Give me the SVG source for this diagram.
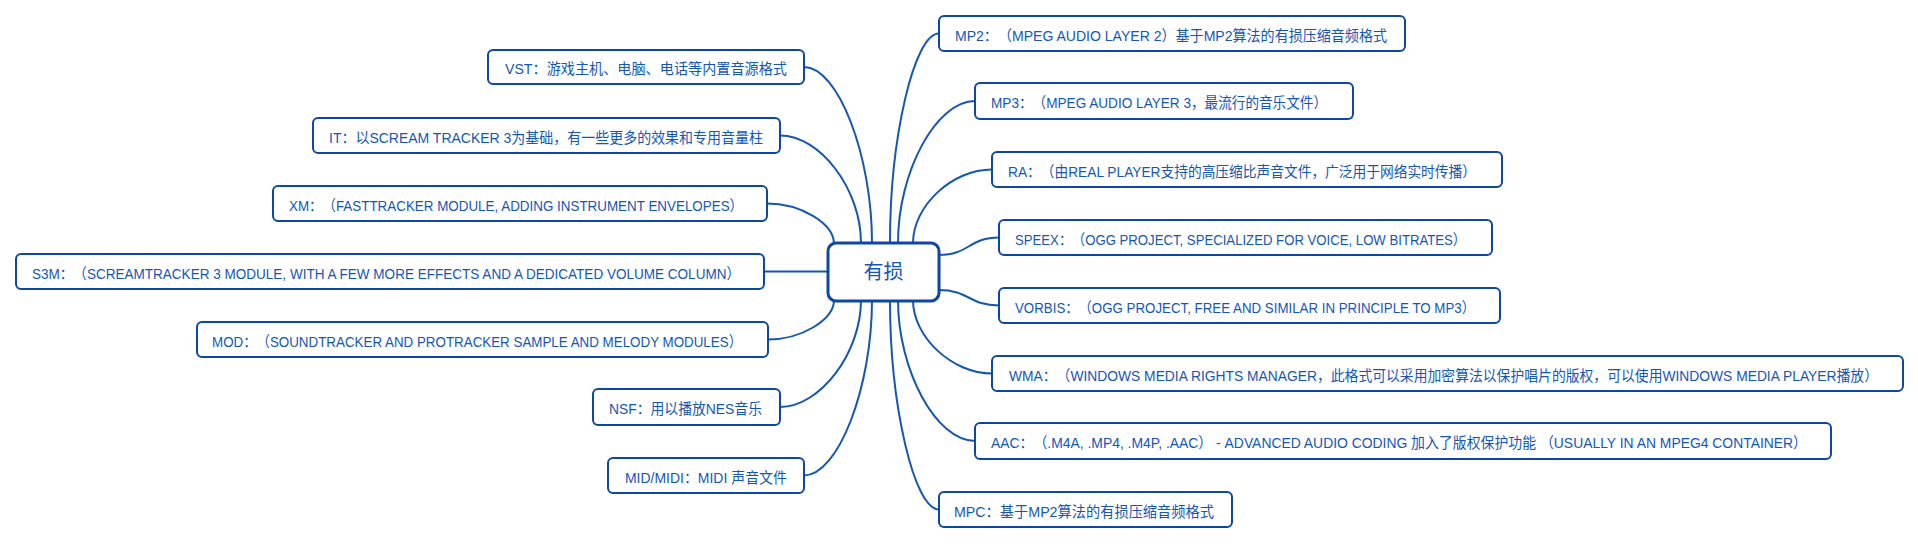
<svg xmlns="http://www.w3.org/2000/svg" width="1918" height="544" viewBox="0 0 1918 544">
<style>
.bg{fill:#ffffff}
.box{fill:#ffffff;stroke:#0d47a1;stroke-width:2}
.hub{fill:#ffffff;stroke:#0d47a1;stroke-width:3}
.t{font-family:"Liberation Sans","Noto Sans CJK SC",sans-serif;font-size:15px;fill:#1556b3;text-spacing-trim:space-all}
.ht{font-family:"Noto Sans CJK SC","Liberation Sans",sans-serif;font-size:20px;fill:#1556b3}
.c{fill:none;stroke:#1556b3;stroke-width:2}
</style>
<rect class="bg" x="0" y="0" width="1918" height="544"/>
<g id="connectors">
<path class="c" d="M 804 67 C 838 67, 872 155, 872 243"/>
<path class="c" d="M 780 135.5 C 820 135.5, 861 189, 861 243"/>
<path class="c" d="M 767 203.5 C 800 203.5, 834 223, 834 244"/>
<path class="c" d="M 764 271.5 L 828 271.5"/>
<path class="c" d="M 768 339.5 C 801 339.5, 834 320, 834 300"/>
<path class="c" d="M 780 407 C 820 407, 861 353, 861 300"/>
<path class="c" d="M 804 475.5 C 838 475.5, 872 388, 872 300"/>
<path class="c" d="M 939 33.5 C 914 33.5, 890 138, 890 243"/>
<path class="c" d="M 975 101 C 936 101, 898 172, 898 243"/>
<path class="c" d="M 992 169.5 C 952 169.5, 913 206, 913 243"/>
<path class="c" d="M 999 237.5 C 969 237.5, 969 255, 939 255"/>
<path class="c" d="M 999 305.5 C 969 305.5, 969 290, 939 290"/>
<path class="c" d="M 992 373.5 C 952 373.5, 913 337, 913 300"/>
<path class="c" d="M 975 441 C 936 441, 898 370, 898 300"/>
<path class="c" d="M 939 509.5 C 914 509.5, 890 405, 890 300"/>
</g>
<g id="hub">
<rect class="hub" x="828" y="243" width="111" height="58" rx="8"/>
<text class="ht" x="883.5" y="279" text-anchor="middle">有损</text>
</g>
<g id="vst">
<rect class="box" x="488" y="50" width="316" height="34" rx="5"/>
<text class="t" x="505" y="74" textLength="282" lengthAdjust="spacingAndGlyphs">VST：游戏主机、电脑、电话等内置音源格式</text>
</g>
<g id="it">
<rect class="box" x="313" y="118" width="467" height="35" rx="5"/>
<text class="t" x="329" y="142.5" textLength="434" lengthAdjust="spacingAndGlyphs">IT：以SCREAM TRACKER 3为基础，有一些更多的效果和专用音量柱</text>
</g>
<g id="xm">
<rect class="box" x="273" y="186" width="494" height="35" rx="5"/>
<text class="t" x="289" y="210.5" textLength="454" lengthAdjust="spacingAndGlyphs">XM：（FASTTRACKER MODULE, ADDING INSTRUMENT ENVELOPES）</text>
</g>
<g id="s3m">
<rect class="box" x="16" y="254" width="748" height="35" rx="5"/>
<text class="t" x="32" y="278.5" textLength="708" lengthAdjust="spacingAndGlyphs">S3M：（SCREAMTRACKER 3 MODULE, WITH A FEW MORE EFFECTS AND A DEDICATED VOLUME COLUMN）</text>
</g>
<g id="mod">
<rect class="box" x="197" y="322" width="571" height="35" rx="5"/>
<text class="t" x="212" y="346.5" textLength="530" lengthAdjust="spacingAndGlyphs">MOD：（SOUNDTRACKER AND PROTRACKER SAMPLE AND MELODY MODULES）</text>
</g>
<g id="nsf">
<rect class="box" x="593" y="389" width="187" height="36" rx="5"/>
<text class="t" x="609" y="414" textLength="153" lengthAdjust="spacingAndGlyphs">NSF：用以播放NES音乐</text>
</g>
<g id="mid">
<rect class="box" x="608" y="458" width="196" height="35" rx="5"/>
<text class="t" x="625" y="482.5" textLength="162" lengthAdjust="spacingAndGlyphs">MID/MIDI：MIDI 声音文件</text>
</g>
<g id="mp2">
<rect class="box" x="939" y="16" width="466" height="35" rx="5"/>
<text class="t" x="955" y="40.5" textLength="432" lengthAdjust="spacingAndGlyphs">MP2：（MPEG AUDIO LAYER 2）基于MP2算法的有损压缩音频格式</text>
</g>
<g id="mp3">
<rect class="box" x="975" y="83" width="378" height="36" rx="5"/>
<text class="t" x="991" y="108" textLength="336" lengthAdjust="spacingAndGlyphs">MP3：（MPEG AUDIO LAYER 3，最流行的音乐文件）</text>
</g>
<g id="ra">
<rect class="box" x="992" y="152" width="510" height="35" rx="5"/>
<text class="t" x="1008" y="176.5" textLength="468" lengthAdjust="spacingAndGlyphs">RA：（由REAL PLAYER支持的高压缩比声音文件，广泛用于网络实时传播）</text>
</g>
<g id="speex">
<rect class="box" x="999" y="220" width="493" height="35" rx="5"/>
<text class="t" x="1015" y="244.5" textLength="451" lengthAdjust="spacingAndGlyphs">SPEEX：（OGG PROJECT, SPECIALIZED FOR VOICE, LOW BITRATES）</text>
</g>
<g id="vorbis">
<rect class="box" x="999" y="288" width="501" height="35" rx="5"/>
<text class="t" x="1015" y="312.5" textLength="460" lengthAdjust="spacingAndGlyphs">VORBIS：（OGG PROJECT, FREE AND SIMILAR IN PRINCIPLE TO MP3）</text>
</g>
<g id="wma">
<rect class="box" x="992" y="356" width="911" height="35" rx="5"/>
<text class="t" x="1009" y="380.5" textLength="869" lengthAdjust="spacingAndGlyphs">WMA：（WINDOWS MEDIA RIGHTS MANAGER，此格式可以采用加密算法以保护唱片的版权，可以使用WINDOWS MEDIA PLAYER播放）</text>
</g>
<g id="aac">
<rect class="box" x="975" y="423" width="856" height="36" rx="5"/>
<text class="t" x="991" y="448" textLength="816" lengthAdjust="spacingAndGlyphs">AAC：（.M4A, .MP4, .M4P, .AAC） - ADVANCED AUDIO CODING 加入了版权保护功能 （USUALLY IN AN MPEG4 CONTAINER）</text>
</g>
<g id="mpc">
<rect class="box" x="939" y="492" width="293" height="35" rx="5"/>
<text class="t" x="954" y="516.5" textLength="260" lengthAdjust="spacingAndGlyphs">MPC：基于MP2算法的有损压缩音频格式</text>
</g>
</svg>
